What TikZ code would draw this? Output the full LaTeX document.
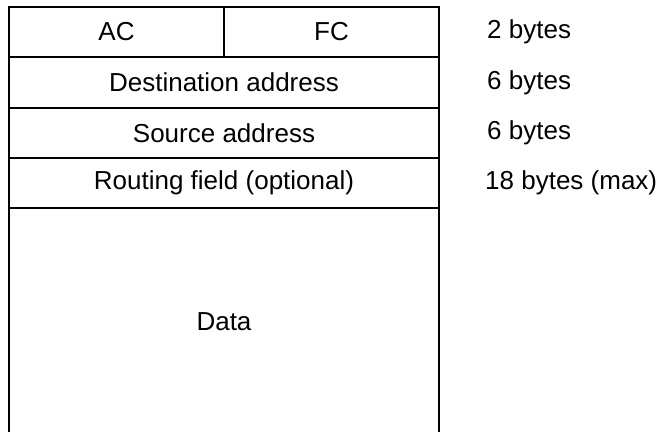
\documentclass[tikz,border=0pt]{standalone}
\usepackage{fontspec}
\setmainfont{Liberation Sans}
\begin{document}
\begin{tikzpicture}[x=1pt,y=-1pt,
  field/.style={draw, line width=2.4pt, inner sep=0pt, outer sep=0pt,
    font=\fontsize{26}{31}\selectfont},
  sizelabel/.style={anchor=west, inner sep=0pt, font=\fontsize{26}{31}\selectfont}]
\useasboundingbox (0,0) rectangle (660,431);
\clip (0,0) rectangle (660,431);
\node[field, minimum width=215pt, minimum height=50pt] (ac) at (116.5,32) {AC};
\node[field, minimum width=215pt, minimum height=50pt] (fc) at (331.5,32) {FC};
\node[field, minimum width=430pt, minimum height=51pt] (dst) at (224,82.5) {Destination address};
\node[field, minimum width=430pt, minimum height=50pt] (src) at (224,133) {Source address};
\node[field, minimum width=430pt, minimum height=50pt] (rt) at (224,183) {Routing field (optional)};
\node[field, minimum width=430pt, minimum height=228pt] (data) at (224,322) {Data};
\node[sizelabel] (s1) at (487,32) {2 bytes};
\node[sizelabel] (s2) at (487,82.5) {6 bytes};
\node[sizelabel] (s3) at (487,133) {6 bytes};
\node[sizelabel] (s4) at (485,183) {18 bytes (max)};
\end{tikzpicture}
\end{document}
